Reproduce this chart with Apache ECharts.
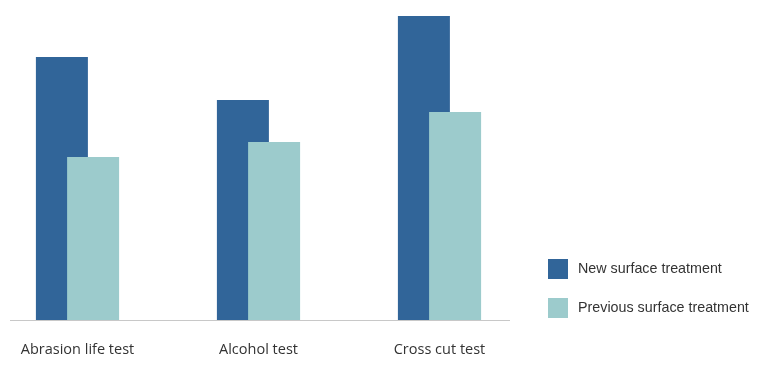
<!DOCTYPE html>
<html><head><meta charset="utf-8">
<script src="https://cdn.jsdelivr.net/npm/echarts@6/dist/echarts.min.js"></script>
<style>html,body{margin:0;padding:0;background:#fff}#c{width:757px;height:374px}</style>
</head><body><div id="c"></div>
<script>
const categories = ['Abrasion life test', 'Alcohol test', 'Cross cut test'];
const seriesNames = ['New surface treatment', 'Previous surface treatment'];
const newValues = [263, 220, 304];
const previousValues = [163, 178, 208];

const chart = echarts.init(document.getElementById('c'), null, {renderer: 'canvas'});
chart.setOption({
  animation: false,
  color: ['#316599', '#9ccbcc'],
  grid: {left: -13, width: 543, top: 0, bottom: 54, outerBoundsMode: 'none', containLabel: false},
  legend: {
    orient: 'vertical', left: 548, top: 259, padding: 0,
    itemWidth: 20, itemHeight: 20, itemGap: 19,
    icon: 'rect',
    textStyle: {fontFamily: 'Liberation Sans', fontSize: 14.3, color: '#333', padding: [0, 0, 0, 5]},
    data: seriesNames
  },
  xAxis: {
    type: 'category', data: categories,
    axisLine: {show: false}, axisTick: {show: false},
    axisLabel: {fontFamily: 'Open Sans', fontSize: 14.5, color: '#333', margin: 22}
  },
  yAxis: {type: 'value', min: 0, max: 320, show: false, splitLine: {show: false}},
  graphic: [{type: 'line', shape: {x1: 10, y1: 320.5, x2: 510, y2: 320.5}, style: {stroke: '#c8c8c8', lineWidth: 1}}],
  series: [
    {name: seriesNames[0], type: 'bar', data: newValues, barWidth: 52, barGap: '-40%', z: 2},
    {name: seriesNames[1], type: 'bar', data: previousValues, barWidth: 52, z: 3}
  ]
});
</script></body></html>
